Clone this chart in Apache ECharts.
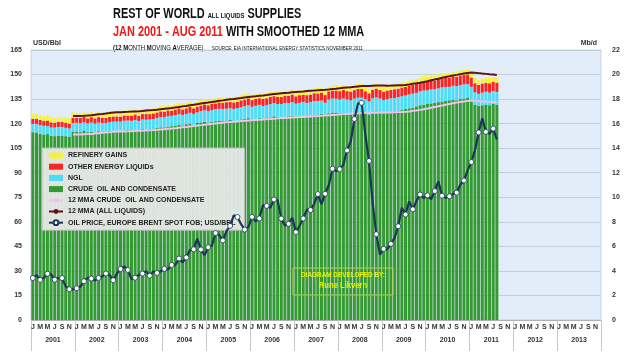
<!DOCTYPE html>
<html>
<head>
<meta charset="utf-8">
<script src="https://cdn.jsdelivr.net/npm/echarts@6/dist/echarts.min.js"></script>
<style>
  html, body { margin: 0; padding: 0; background: #fff; }
  #main { width: 629px; height: 354px; }
</style>
</head>
<body>
<div id="main"></div>
<script>
// axis categories
var years = ['2001','2002','2003','2004','2005','2006','2007','2008','2009','2010','2011','2012','2013'];
var monthLetters = ['J','F','M','A','M','J','J','A','S','O','N','D'];

// Mb/d, Jan 2001 - Aug 2011
var crude = [
  15.30,15.28,15.15,15.12,15.15,15.00,14.98,15.00,15.02,14.98,14.95,15.35,
  15.35,15.30,15.40,15.30,15.35,15.28,15.38,15.32,15.30,15.40,15.42,15.40,
  15.40,15.45,15.50,15.45,15.50,15.45,15.55,15.50,15.55,15.60,15.65,15.70,
  15.70,15.75,15.80,15.85,15.90,15.85,15.95,16.00,15.90,16.05,16.10,16.15,
  16.10,16.15,16.20,16.25,16.20,16.25,16.30,16.20,16.25,16.35,16.40,16.45,
  16.35,16.40,16.45,16.40,16.45,16.50,16.60,16.55,16.50,16.55,16.60,16.65,
  16.55,16.60,16.65,16.60,16.65,16.70,16.75,16.80,16.75,16.85,16.90,16.90,
  16.85,16.90,16.85,16.80,16.90,16.95,17.00,16.90,16.75,16.95,17.00,16.95,
  16.85,16.90,16.95,17.00,17.05,17.10,17.20,17.25,17.30,17.40,17.50,17.55,
  17.60,17.65,17.70,17.75,17.80,17.85,17.90,17.95,17.90,18.00,18.05,18.10,
  17.90,17.55,17.45,17.50,17.55,17.50,17.60,17.55
];
var ngl = [
  0.68,0.70,0.72,0.70,0.66,0.68,0.70,0.72,0.70,0.68,0.66,0.70,
  0.72,0.74,0.70,0.72,0.75,0.73,0.70,0.74,0.76,0.72,0.74,0.76,
  0.76,0.78,0.75,0.78,0.80,0.77,0.79,0.82,0.80,0.78,0.82,0.84,
  0.84,0.86,0.83,0.85,0.88,0.86,0.84,0.88,0.90,0.87,0.92,0.94,
  0.92,0.95,0.98,0.96,1.00,0.97,0.95,0.99,1.02,1.00,1.03,1.05,
  1.02,1.05,1.08,1.04,1.06,1.10,1.07,1.05,1.09,1.12,1.08,1.10,
  1.08,1.10,1.12,1.09,1.11,1.14,1.10,1.08,0.95,1.12,1.15,1.13,
  1.12,1.15,1.13,1.10,1.14,1.16,1.12,1.10,1.06,1.12,1.14,1.10,
  1.08,1.10,1.12,1.09,1.11,1.13,1.10,1.12,1.14,1.11,1.13,1.15,
  1.12,1.14,1.10,1.13,1.15,1.12,1.10,1.14,1.16,1.13,1.15,1.12,
  1.10,1.00,0.98,1.02,1.05,1.03,1.06,1.04
];
var otherLiquids = [
  0.42,0.40,0.43,0.41,0.44,0.42,0.40,0.43,0.41,0.42,0.40,0.43,
  0.40,0.42,0.44,0.41,0.43,0.42,0.45,0.43,0.41,0.44,0.42,0.43,
  0.42,0.44,0.41,0.43,0.45,0.42,0.44,0.46,0.43,0.45,0.44,0.46,
  0.44,0.46,0.43,0.45,0.47,0.44,0.46,0.48,0.45,0.47,0.46,0.48,
  0.48,0.50,0.47,0.52,0.50,0.53,0.51,0.54,0.52,0.55,0.53,0.56,
  0.55,0.57,0.54,0.58,0.56,0.59,0.57,0.60,0.58,0.61,0.59,0.62,
  0.60,0.62,0.59,0.63,0.61,0.64,0.62,0.65,0.63,0.66,0.64,0.67,
  0.68,0.70,0.67,0.71,0.69,0.72,0.70,0.64,0.66,0.70,0.72,0.70,
  0.68,0.70,0.67,0.71,0.69,0.72,0.70,0.73,0.71,0.74,0.72,0.75,
  0.72,0.74,0.71,0.75,0.73,0.76,0.74,0.77,0.75,0.78,0.76,0.79,
  0.76,0.74,0.72,0.75,0.73,0.76,0.74,0.75
];
var refinery = [
  0.40,0.42,0.38,0.36,0.40,0.42,0.38,0.40,0.36,0.38,0.42,0.44,
  0.42,0.40,0.38,0.44,0.40,0.42,0.46,0.38,0.40,0.44,0.42,0.45,
  0.44,0.40,0.42,0.38,0.40,0.42,0.44,0.40,0.38,0.42,0.44,0.46,
  0.45,0.42,0.40,0.44,0.42,0.46,0.44,0.42,0.40,0.45,0.43,0.46,
  0.42,0.40,0.38,0.42,0.44,0.40,0.38,0.42,0.40,0.43,0.45,0.42,
  0.40,0.38,0.42,0.36,0.40,0.44,0.38,0.40,0.36,0.40,0.42,0.44,
  0.40,0.36,0.38,0.42,0.40,0.36,0.44,0.38,0.40,0.36,0.42,0.44,
  0.40,0.38,0.42,0.40,0.36,0.40,0.42,0.38,0.34,0.40,0.38,0.42,
  0.40,0.36,0.38,0.42,0.40,0.38,0.36,0.40,0.42,0.38,0.40,0.44,
  0.40,0.38,0.36,0.40,0.42,0.38,0.36,0.40,0.38,0.42,0.44,0.40,
  0.42,0.44,0.40,0.38,0.42,0.44,0.40,0.42
];
// USD/bbl, Brent spot monthly
var brent = [
  25.62,27.50,24.50,25.66,28.31,27.85,24.61,25.68,25.62,20.54,18.80,18.71,
  19.42,20.28,23.70,25.73,25.35,24.08,25.74,26.65,28.40,27.54,24.34,28.33,
  31.18,32.77,30.61,25.00,25.86,27.65,28.35,29.89,27.11,29.61,28.75,29.81,
  31.28,30.86,33.63,33.59,37.57,35.18,38.22,42.74,43.20,49.78,43.11,39.60,
  44.51,45.48,53.10,51.88,48.65,54.35,57.52,63.98,62.91,58.54,55.24,56.86,
  62.99,60.21,62.06,70.26,69.78,68.56,73.67,73.23,61.96,57.81,58.76,62.47,
  53.68,57.56,62.05,67.49,67.21,71.05,76.93,70.76,77.17,82.34,92.41,90.93,
  92.18,94.99,103.64,109.07,122.80,132.32,132.72,113.24,97.23,71.58,52.45,39.95,
  43.44,43.32,46.54,50.18,57.30,68.61,64.44,72.51,67.65,72.77,76.66,74.46,
  76.17,73.75,78.83,84.82,75.95,74.76,75.58,77.04,77.84,82.67,85.28,91.45,
  96.52,103.72,114.64,123.26,114.99,113.83,116.97,110.22
];

var categories = [];
years.forEach(function (y) {
  monthLetters.forEach(function (m, k) { categories.push(y + '-' + (k + 1)); });
});

var total = crude.map(function (v, i) { return v + ngl[i] + otherLiquids[i] + refinery[i]; });
function mma12(arr) {
  return arr.map(function (v, i) {
    if (i < 11) return '-';
    var s = 0;
    for (var k = i - 11; k <= i; k++) s += arr[k];
    return +(s / 12).toFixed(3);
  });
}

var FONT = '"Liberation Sans", sans-serif';
var chart = echarts.init(document.getElementById('main'));

var option = {
  animation: false,
  textStyle: { fontFamily: FONT },
  grid: {
    left: 31, right: 28, top: 50, bottom: 34,
    show: true, backgroundColor: '#e3edfa', borderColor: '#c5d3e4', borderWidth: 1
  },
  legend: {
    orient: 'vertical', left: 42, top: 148,
    backgroundColor: 'rgba(230,232,230,0.95)', borderColor: '#b8bcb8', borderWidth: 1,
    padding: [3, 9, 3, 6], itemGap: 2.2, itemWidth: 14, itemHeight: 6,
    textStyle: { fontFamily: FONT, fontSize: 7, fontWeight: 'bold', color: '#222', lineHeight: 9 },
    data: [
      { name: 'REFINERY GAINS', icon: 'rect' },
      { name: 'OTHER ENERGY LIQUIDs', icon: 'rect' },
      { name: 'NGL', icon: 'rect' },
      { name: 'CRUDE  OIL AND CONDENSATE', icon: 'rect' },
      '12 MMA CRUDE  OIL AND CONDENSATE',
      '12 MMA (ALL LIQUIDS)',
      'OIL PRICE, EUROPE BRENT SPOT FOB; USD/BBL'
    ]
  },
  xAxis: [{
    type: 'category', data: categories, position: 'bottom',
    axisLine: { lineStyle: { color: '#b0b0b0' } },
    axisTick: { show: false },
    axisLabel: {
      interval: 1, margin: 4, fontSize: 7, fontWeight: 'bold', color: '#333',
      formatter: function (v, i) { return monthLetters[i % 12]; }
    },
    splitLine: { show: false }
  }, {
    type: 'category', data: years, position: 'bottom', boundaryGap: true,
    axisLine: { show: false },
    axisTick: { show: true, length: 31, lineStyle: { color: '#c8c8c8' } },
    axisLabel: { margin: 17, fontSize: 7, fontWeight: 'bold', color: '#333' },
    splitLine: { show: false }
  }],
  yAxis: [{
    type: 'value', min: 0, max: 165, interval: 15, position: 'left',
    name: 'USD/Bbl', nameLocation: 'end', nameGap: 3,
    nameTextStyle: { fontFamily: FONT, fontSize: 7, fontWeight: 'bold', color: '#333', align: 'left', padding: [0, 0, 0, 2] },
    axisLine: { show: false }, axisTick: { show: false },
    axisLabel: { margin: 9, fontSize: 7, fontWeight: 'bold', color: '#333' },
    splitLine: { lineStyle: { color: '#c3cfdd', width: 1 } }
  }, {
    type: 'value', min: 0, max: 22, interval: 2, position: 'right',
    name: 'Mb/d', nameLocation: 'end', nameGap: 3,
    nameTextStyle: { fontFamily: FONT, fontSize: 7, fontWeight: 'bold', color: '#333', align: 'right', padding: [0, 4, 0, 0] },
    axisLine: { show: false }, axisTick: { show: false },
    axisLabel: { margin: 11, fontSize: 7, fontWeight: 'bold', color: '#333' },
    splitLine: { show: false }
  }],
  series: [
    { name: 'CRUDE  OIL AND CONDENSATE', type: 'bar', stack: 'liq', yAxisIndex: 1, data: crude,
      barCategoryGap: '18%', itemStyle: { color: '#359a33' } },
    { name: 'NGL', type: 'bar', stack: 'liq', yAxisIndex: 1, data: ngl,
      itemStyle: { color: '#4fdcf7' } },
    { name: 'OTHER ENERGY LIQUIDs', type: 'bar', stack: 'liq', yAxisIndex: 1, data: otherLiquids,
      itemStyle: { color: '#fb2424' } },
    { name: 'REFINERY GAINS', type: 'bar', stack: 'liq', yAxisIndex: 1, data: refinery,
      itemStyle: { color: '#f4f33a' } },
    { name: '12 MMA CRUDE  OIL AND CONDENSATE', type: 'line', yAxisIndex: 1, data: mma12(crude),
      symbol: 'none', lineStyle: { color: '#ecc4ec', width: 2 }, itemStyle: { color: '#ecc4ec' }, z: 3 },
    { name: '12 MMA (ALL LIQUIDS)', type: 'line', yAxisIndex: 1, data: mma12(total),
      symbol: 'none', lineStyle: { color: '#5c1414', width: 2 }, itemStyle: { color: '#5c1414' }, z: 3 },
    { name: 'OIL PRICE, EUROPE BRENT SPOT FOB; USD/BBL', type: 'line', yAxisIndex: 0, data: brent,
      symbol: 'circle', symbolSize: 5,
      lineStyle: { color: '#1c3558', width: 2.2 },
      itemStyle: { color: '#ffffff', borderColor: '#1c3558', borderWidth: 0.8 }, z: 4 }
  ],
  graphic: [
    { type: 'text', x: 113, y: 7, scaleX: 0.78,
      style: { fontFamily: FONT, textVerticalAlign: 'top', rich: {
        a: { fontSize: 14, fontWeight: 'bold', fill: '#111', verticalAlign: 'bottom', fontFamily: FONT },
        b: { fontSize: 7.5, fontWeight: 'bold', fill: '#111', verticalAlign: 'bottom', fontFamily: FONT, padding: [0, 0, 1, 0] }
      }, text: '{a|REST OF WORLD }{b|ALL LIQUIDS}{a| SUPPLIES}' } },
    { type: 'text', x: 113, y: 25, scaleX: 0.78,
      style: { fontFamily: FONT, textVerticalAlign: 'top', rich: {
        r: { fontSize: 14, fontWeight: 'bold', fill: '#f01818', fontFamily: FONT },
        k: { fontSize: 14, fontWeight: 'bold', fill: '#111', fontFamily: FONT }
      }, text: '{r|JAN 2001 - AUG 2011}{k| WITH SMOOTHED 12 MMA}' } },
    { type: 'text', x: 113, y: 40, scaleX: 0.85,
      style: { fontFamily: FONT, textVerticalAlign: 'top', rich: {
        s: { fontSize: 7, fill: '#111', fontFamily: FONT, verticalAlign: 'bottom' },
        S: { fontSize: 7, fontWeight: 'bold', fill: '#111', fontFamily: FONT, verticalAlign: 'bottom' },
        t: { fontSize: 5.3, fill: '#111', fontFamily: FONT, verticalAlign: 'bottom', padding: [0, 0, 1, 0] }
      }, text: '{S|(12 M}{s|ONTH }{S|M}{s|OVING }{S|A}{s|VERAGE)}   {t|SOURCE: EIA INTERNATIONAL ENERGY STATISTICS NOVEMBER 2011}' } },
    { type: 'rect', x: 293, y: 268, shape: { width: 100, height: 27 },
      style: { fill: 'rgba(0,0,0,0)', stroke: '#b8d040', lineWidth: 1 }, z: 10 },
    { type: 'text', x: 343, y: 271, scaleX: 0.85, z: 11,
      style: { text: 'DIAGRAM DEVELOPED BY:', fontFamily: FONT, fontSize: 7.5, fontWeight: 'bold', fill: '#e8f200',
        textAlign: 'center', textVerticalAlign: 'top' } },
    { type: 'text', x: 343, y: 281, scaleX: 0.85, z: 11,
      style: { text: 'Rune Likvern', fontFamily: FONT, fontSize: 9, fontWeight: 'bold', fill: '#e8f200',
        textAlign: 'center', textVerticalAlign: 'top' } }
  ]
};
chart.setOption(option);
</script>
</body>
</html>
